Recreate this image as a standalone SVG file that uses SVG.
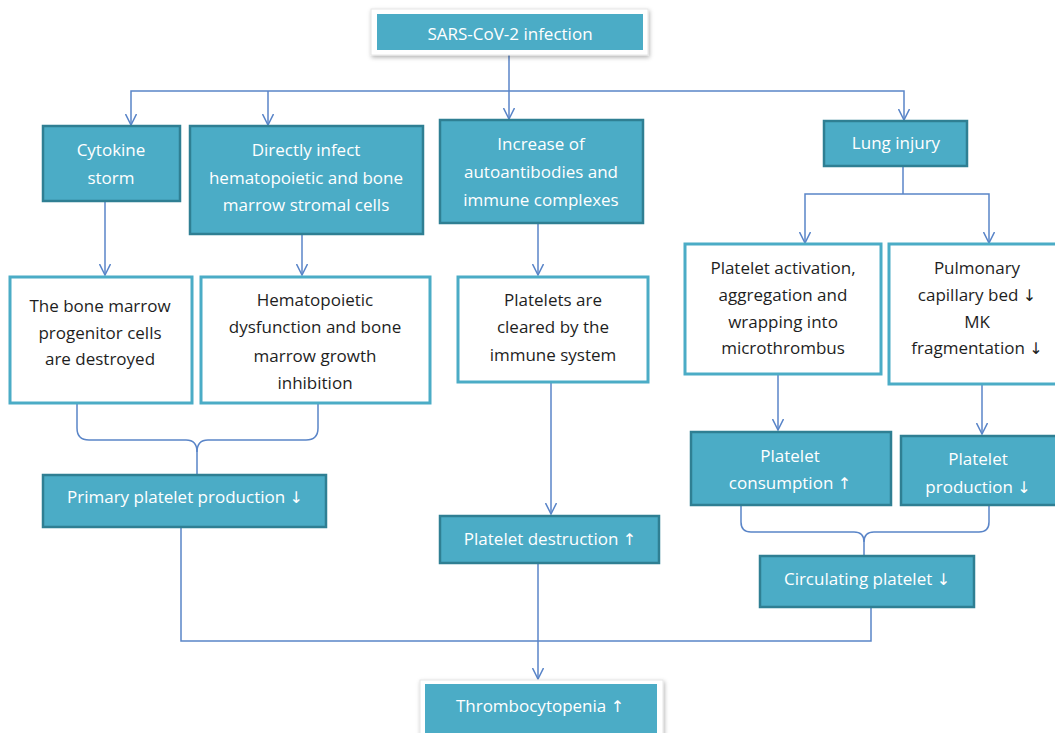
<svg xmlns="http://www.w3.org/2000/svg" width="1055" height="733" viewBox="0 0 1055 733">
<style>
.f{fill:#4BACC6;stroke:#2F7F93;stroke-width:2.5}
.w{fill:#FFFFFF;stroke:#4BACC6;stroke-width:3}
.t{font-family:"Open Sans","Liberation Sans",sans-serif;font-size:17px;text-anchor:middle}
.tw{fill:#FFFFFF}
.td{fill:#1E1E1E}
.ar{font-family:"DejaVu Sans",sans-serif;font-size:16px}
.c{fill:none;stroke:#5A85C8;stroke-width:1.5}
.a{marker-end:url(#arr)}
</style>
<defs>
<marker id="arr" markerUnits="userSpaceOnUse" viewBox="0 0 12 12" refX="11" refY="6" markerWidth="12" markerHeight="12" orient="auto">
<path d="M0,0.5 L11,6 L0,11.5" fill="none" stroke="#5A85C8" stroke-width="1.5"/>
</marker>
<filter id="sh" x="-10%" y="-30%" width="120%" height="170%">
<feDropShadow dx="1" dy="2" stdDeviation="2" flood-color="#000" flood-opacity="0.3"/>
</filter>
</defs>
<rect width="1055" height="733" fill="#FFFFFF"/>
<g id="connectors">
<path class="c a" d="M509,55 V119"/>
<path class="c a" d="M509,91 H131 V125"/>
<path class="c a" d="M509,91 H904 V120"/>
<path class="c a" d="M268,91 V125"/>
<path class="c a" d="M105,201 V275"/>
<path class="c a" d="M302,234 V275"/>
<path class="c a" d="M538,223 V275"/>
<path class="c a" d="M551,382 V514"/>
<path class="c" d="M903,166 V194"/>
<path class="c a" d="M903,194 H805 V243"/>
<path class="c a" d="M903,194 H989 V243"/>
<path class="c a" d="M778,374 V430"/>
<path class="c a" d="M982,384 V434"/>
<path class="c" d="M77,403 V428 Q77,440 89,440 H186 Q197,440 197,452 V475"/>
<path class="c" d="M318,403 V428 Q318,440 306,440 H208 Q197,440 197,452"/>
<path class="c" d="M741,505 V522 Q741,532 751,532 H854 Q864,532 864,542 V556"/>
<path class="c" d="M989,505 V522 Q989,532 979,532 H874 Q864,532 864,542"/>
<path class="c" d="M181,527 V641 H871 V607"/>
<path class="c a" d="M538,563 V679"/>
</g>
<g id="sars">
<rect x="371" y="9" width="277" height="46" fill="#FFFFFF" stroke="#E6E6E6" stroke-width="1" filter="url(#sh)"/>
<rect x="377" y="14" width="266" height="36" fill="#4BACC6"/>
<text class="t tw" x="510" y="40">SARS-CoV-2 infection</text>
</g>
<g id="cytokine">
<rect class="f" x="43" y="126" width="137" height="75"/>
<text class="t tw" x="111" y="156">Cytokine</text>
<text class="t tw" x="111" y="184">storm</text>
</g>
<g id="directly">
<rect class="f" x="190" y="126" width="233" height="108"/>
<text class="t tw" x="306" y="156">Directly infect</text>
<text class="t tw" x="306" y="184">hematopoietic and bone</text>
<text class="t tw" x="306" y="211">marrow stromal cells</text>
</g>
<g id="increase">
<rect class="f" x="440" y="120" width="203" height="103"/>
<text class="t tw" x="541" y="150">Increase of</text>
<text class="t tw" x="541" y="178">autoantibodies and</text>
<text class="t tw" x="541" y="206">immune complexes</text>
</g>
<g id="lung">
<rect class="f" x="824" y="121" width="143" height="45"/>
<text class="t tw" x="896" y="149">Lung injury</text>
</g>
<g id="bonemarrow">
<rect class="w" x="10" y="277" width="182" height="126"/>
<text class="t td" x="100" y="312">The bone marrow</text>
<text class="t td" x="100" y="339">progenitor cells</text>
<text class="t td" x="100" y="365">are destroyed</text>
</g>
<g id="hemat">
<rect class="w" x="201" y="277" width="229" height="126"/>
<text class="t td" x="315" y="306">Hematopoietic</text>
<text class="t td" x="315" y="333">dysfunction and bone</text>
<text class="t td" x="315" y="362">marrow growth</text>
<text class="t td" x="315" y="389">inhibition</text>
</g>
<g id="cleared">
<rect class="w" x="458" y="277" width="190" height="105"/>
<text class="t td" x="553" y="306">Platelets are</text>
<text class="t td" x="553" y="333">cleared by the</text>
<text class="t td" x="553" y="361">immune system</text>
</g>
<g id="activation">
<rect class="w" x="685" y="244" width="196" height="130"/>
<text class="t td" x="783" y="274">Platelet activation,</text>
<text class="t td" x="783" y="301">aggregation and</text>
<text class="t td" x="783" y="328">wrapping into</text>
<text class="t td" x="783" y="354">microthrombus</text>
</g>
<g id="pulmonary">
<rect class="w" x="889" y="244" width="172" height="140"/>
<text class="t td" x="977" y="274">Pulmonary</text>
<text class="t td" x="977" y="301">capillary bed <tspan class="ar">↓</tspan></text>
<text class="t td" x="977" y="328">MK</text>
<text class="t td" x="977" y="354">fragmentation <tspan class="ar">↓</tspan></text>
</g>
<g id="primary">
<rect class="f" x="43" y="475" width="283" height="52"/>
<text class="t tw" x="185" y="503">Primary platelet production <tspan class="ar">↓</tspan></text>
</g>
<g id="consumption">
<rect class="f" x="691" y="432" width="200" height="73"/>
<text class="t tw" x="790" y="462">Platelet</text>
<text class="t tw" x="790" y="489">consumption <tspan class="ar">↑</tspan></text>
</g>
<g id="production">
<rect class="f" x="901" y="436" width="162" height="69"/>
<text class="t tw" x="978" y="465">Platelet</text>
<text class="t tw" x="978" y="493">production <tspan class="ar">↓</tspan></text>
</g>
<g id="destruction">
<rect class="f" x="440" y="516" width="219" height="47"/>
<text class="t tw" x="550" y="545">Platelet destruction <tspan class="ar">↑</tspan></text>
</g>
<g id="circulating">
<rect class="f" x="760" y="556" width="214" height="51"/>
<text class="t tw" x="867" y="585">Circulating platelet <tspan class="ar">↓</tspan></text>
</g>
<g id="thrombo">
<rect x="420" y="680" width="243" height="60" fill="#FFFFFF" stroke="#E6E6E6" stroke-width="1" filter="url(#sh)"/>
<rect x="425" y="684" width="232" height="50" fill="#4BACC6"/>
<text class="t tw" x="540" y="712">Thrombocytopenia <tspan class="ar">↑</tspan></text>
</g>
</svg>
